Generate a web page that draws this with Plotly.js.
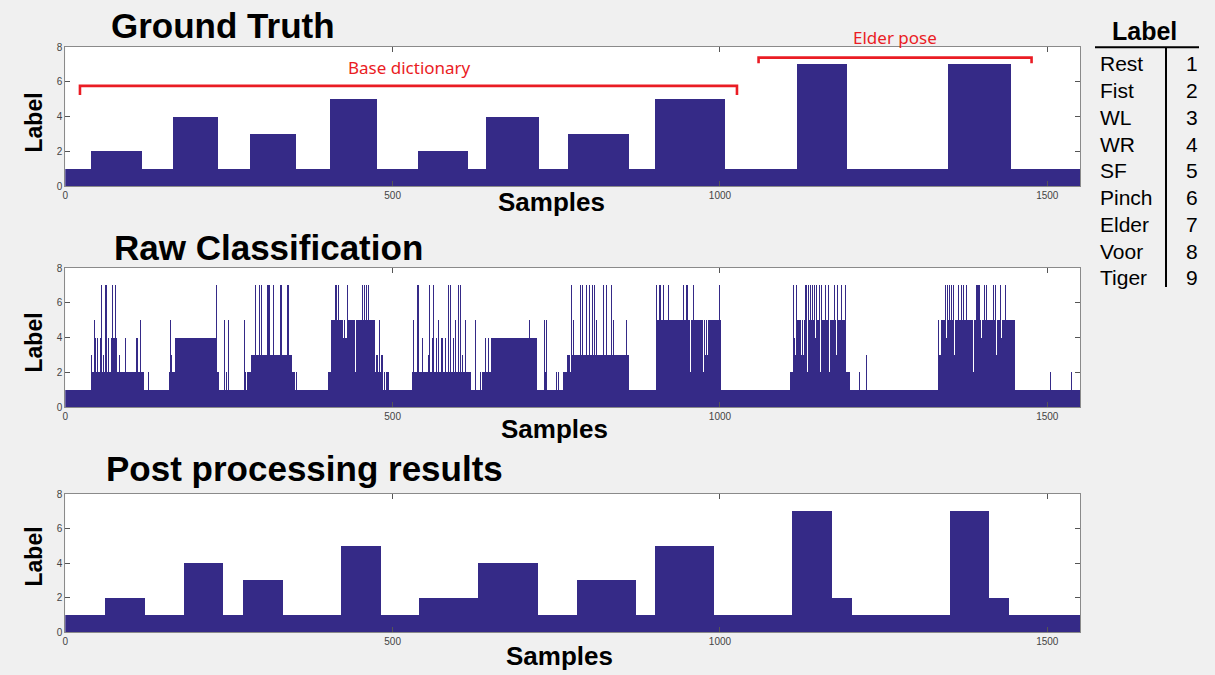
<!DOCTYPE html>
<html>
<head>
<meta charset="utf-8">
<script src="https://cdn.plot.ly/plotly-3.0.1.min.js"></script>
<style>
  html, body { margin: 0; padding: 0; background: #f0f0f0; }
  #chart { width: 1215px; height: 675px; }
</style>
</head>
<body>
<div id="chart"></div>
<script>
// ---- data -------------------------------------------------------------
const nSamples = 1550;

// Ground truth: label of each run and the sample index where the run ends
const gtLabel = [1, 2, 1, 4, 1, 3, 1, 5, 1, 2, 1, 4, 1, 3, 1, 5, 1, 7, 1, 7, 1];
const gtEnd   = [40, 117, 164, 233, 282, 352, 404, 476, 538, 615, 643, 724, 768, 861, 901, 1007, 1118, 1194, 1349, 1444, 1550];

// Post-processed output: runs
const ppLabel = [1, 2, 1, 4, 1, 3, 1, 5, 1, 2, 4, 1, 3, 1, 5, 1, 7, 2, 1, 7, 2, 1];
const ppEnd   = [61, 121, 181, 241, 271, 332, 421, 482, 541, 630, 722, 781, 872, 901, 991, 1110, 1171, 1202, 1351, 1411, 1441, 1550];

// Raw classifier output: dominant runs ...
const rawBaseLabel = [1, 2, 1, 2, 4, 2, 1, 2, 3, 2, 1, 2, 5, 2, 1, 2, 1, 2, 4, 1, 2, 3, 1, 5, 1, 2, 3, 5, 2, 1, 3, 5, 1];
const rawBaseEnd   = [40, 120, 158, 168, 230, 235, 277, 283, 346, 354, 402, 406, 472, 494, 530, 620, 638, 651, 721, 760, 766, 861, 902, 1002, 1107, 1112, 1118, 1193, 1199, 1334, 1338, 1450, 1550];

// ... and the single samples that flicker away from them
const rawSpikeAt = [
  40, 44, 46, 49, 51, 53, 55, 57, 58, 60, 61, 62, 63, 65, 66, 68, 70, 71, 72, 73, 74, 75, 76, 77, 78, 80, 82,
  91, 92, 94, 106, 108, 110, 112, 114, 127, 160, 162, 230, 239, 242, 243, 246, 249, 251, 254, 260, 271, 273, 275,
  288, 290, 296, 297, 299, 306, 308, 310, 311, 318, 320, 328, 330, 339, 340, 346, 349, 351,
  412, 414, 416, 417, 424, 425, 428, 429, 431, 443, 445, 453, 457, 459, 460, 463,
  472, 475, 476, 479, 483, 484, 486, 489, 491,
  531, 535, 537, 539, 543, 545, 552, 554, 556, 558, 560, 562, 564, 567, 570, 574, 576, 580, 585, 588, 590, 592, 593,
  596, 600, 603, 604, 606, 611, 619, 624, 626, 627, 634, 637, 639, 641, 645, 646, 700, 709, 720, 731, 733, 735, 750, 753,
  769, 771, 773, 776, 778, 784, 786, 790, 792, 796, 800, 805, 808, 811, 815, 818, 822, 826, 830, 834, 837, 847, 853, 857, 859,
  903, 907, 909, 913, 917, 921, 923, 928, 931, 940, 944, 948, 950, 955, 959, 969, 974, 977, 980, 992, 999, 1007, 1015,
  1112, 1113, 1114, 1116, 1120, 1122, 1124, 1127, 1130, 1132, 1133, 1135, 1138, 1141, 1144, 1145, 1147, 1152, 1153, 1155,
  1157, 1161, 1165, 1167, 1174, 1178, 1179, 1183, 1185, 1189, 1191, 1192, 1213, 1223,
  1333, 1342, 1344, 1346, 1347, 1350, 1353, 1356, 1358, 1360, 1364, 1366, 1368, 1372, 1374, 1376, 1380, 1387,
  1391, 1392, 1393, 1394, 1395, 1396, 1399, 1404, 1407, 1409, 1412, 1415, 1417, 1420, 1422, 1428, 1430, 1432, 1436, 1441,
  1504, 1537
];
const rawSpikeLabel = [
  3, 5, 4, 4, 4, 4, 7, 7, 3, 7, 7, 7, 7, 4, 3, 3, 4, 4, 7, 4, 4, 4, 7, 7, 4, 5, 3,
  4, 4, 5, 4, 4, 4, 4, 5, 2, 5, 3, 7, 2, 2, 5, 2, 5, 5, 5, 3, 2, 5, 2,
  7, 7, 7, 7, 7, 7, 7, 7, 7, 7, 7, 7, 7, 7, 7, 5, 7, 1,
  7, 7, 3, 7, 4, 4, 4, 4, 7, 2, 7, 7, 7, 3, 7, 7,
  5, 3, 3, 5, 3, 3, 1, 1, 5,
  5, 4, 7, 7, 7, 4, 4, 3, 7, 7, 4, 7, 5, 4, 5, 4, 4, 4, 7, 7, 7, 4, 4,
  5, 7, 7, 4, 3, 5, 3, 2, 5, 2, 2, 2, 4, 4, 7, 4, 1, 5, 7, 5, 2, 5, 2, 2,
  2, 2, 7, 5, 5, 7, 7, 7, 7, 7, 7, 7, 7, 5, 7, 7, 7, 7, 7, 7, 5, 5, 7, 5, 7,
  7, 7, 7, 7, 3, 7, 7, 4, 4, 7, 7, 7, 7, 2, 7, 7, 2, 3, 3, 4, 7, 2, 2,
  7, 4, 7, 7, 7, 7, 3, 3, 7, 7, 2, 7, 7, 7, 7, 4, 7, 7, 2, 7,
  7, 7, 7, 2, 7, 3, 7, 7, 7, 7, 7, 4, 2, 3,
  5, 7, 7, 4, 7, 7, 7, 7, 3, 7, 7, 4, 7, 7, 3, 7, 7, 2,
  7, 7, 7, 7, 7, 7, 4, 7, 7, 7, 2, 7, 7, 7, 3, 7, 4, 7, 7, 3,
  2, 2
];

// Gesture legend
const gestureNames = ['Rest', 'Fist', 'WL', 'WR', 'SF', 'Pinch', 'Elder', 'Voor', 'Tiger'];
const gestureIds   = [1, 2, 3, 4, 5, 6, 7, 8, 9];

const xTicks = [0, 500, 1000, 1500];
const yTicks = [0, 2, 4, 6, 8];

// ---- helpers ----------------------------------------------------------
// runs (label, end) -> bar geometry in sample units
function runsToBars(labels, ends) {
  const x = [], w = [], y = [];
  let start = 0;
  labels.forEach((lab, i) => {
    const end = ends[i];
    x.push((start + end) / 2);
    w.push(end - start);
    y.push(lab);
    start = end;
  });
  return { x, w, y };
}

// decode the raw stream sample by sample, then merge equal neighbours
function rawToRuns() {
  const seq = new Array(nSamples).fill(1);
  let start = 0;
  rawBaseLabel.forEach((lab, i) => {
    for (let k = start; k < rawBaseEnd[i]; k++) seq[k] = lab;
    start = rawBaseEnd[i];
  });
  rawSpikeAt.forEach((s, i) => { seq[s] = rawSpikeLabel[i]; });
  const labels = [], ends = [];
  for (let k = 0; k < nSamples; k++) {
    if (k === nSamples - 1 || seq[k + 1] !== seq[k]) {
      labels.push(seq[k]);
      ends.push(k + 1);
    }
  }
  return runsToBars(labels, ends);
}

const barColor = '#352a87';
function barTrace(b, ax) {
  return {
    type: 'bar', x: b.x, y: b.y, width: b.w,
    xaxis: 'x' + ax, yaxis: 'y' + ax,
    marker: { color: barColor, line: { width: 0 } },
    hoverinfo: 'skip', showlegend: false
  };
}

const traces = [
  barTrace(runsToBars(gtLabel, gtEnd), ''),
  barTrace(rawToRuns(), '2'),
  barTrace(runsToBars(ppLabel, ppEnd), '3')
];

// ---- layout -----------------------------------------------------------
const W = 1215, H = 675;
const px = v => v / W;
const py = v => 1 - v / H;

const font = 'Liberation Sans, Arial, Helvetica, sans-serif';
const axisCol = '#8a8a8a';

function xAxis(anchor) {
  return {
    anchor: anchor, domain: [px(65.3), px(1080)], range: [0, nSamples],
    tickmode: 'array', tickvals: xTicks, ticktext: xTicks.map(String),
    ticks: 'inside', ticklen: 5, tickcolor: '#555', tickwidth: 1,
    showline: true, linecolor: axisCol, linewidth: 1, mirror: 'ticks',
    showgrid: false, zeroline: false, fixedrange: true, automargin: false,
    tickfont: { family: font, size: 10, color: '#444' }
  };
}
function yAxis(anchor, topPx, botPx) {
  return {
    anchor: anchor, domain: [py(botPx), py(topPx)], range: [0, 8],
    tickmode: 'array', tickvals: yTicks, ticktext: yTicks.map(String),
    ticks: 'inside', ticklen: 5, tickcolor: '#555', tickwidth: 1,
    showline: true, linecolor: axisCol, linewidth: 1, mirror: 'ticks',
    showgrid: false, zeroline: false, fixedrange: true, automargin: false,
    tickfont: { family: font, size: 10, color: '#444' }
  };
}

const annotations = [];
function textAt(x, y, text, size, opts) {
  annotations.push(Object.assign({
    xref: 'paper', yref: 'paper', x: px(x), y: py(y), text: text,
    showarrow: false, xanchor: 'center', yanchor: 'middle', borderpad: 0,
    font: { family: font, size: size, color: '#000' }
  }, opts || {}));
}

// panel titles
textAt(110, 25.5, '<b>Ground Truth</b>', 35, { xanchor: 'left' });
textAt(113, 247, '<b>Raw Classification</b>', 35, { xanchor: 'left' });
textAt(105, 468, '<b>Post processing results</b>', 35, { xanchor: 'left' });

// axis titles
[[551, 202], [554, 428.6], [559, 656]].forEach(p => textAt(p[0], p[1], '<b>Samples</b>', 26));
[[33.5, 123], [33.5, 343], [33.5, 557]].forEach(p =>
  textAt(p[0], p[1], '<b>Label</b>', 23, { textangle: -90 }));

// gesture legend table
textAt(1144, 31, '<b>Label</b>', 25);
gestureNames.forEach((name, i) => {
  const yc = 63.8 + i * 26.75;
  textAt(1098.5, yc, name, 21, { xanchor: 'left' });
  textAt(1198.5, yc, String(gestureIds[i]), 21, { xanchor: 'right' });
});

// bracket captions
const red = '#ea1c24';
textAt(409, 67, 'Base dictionary', 17, { font: { family: 'Noto Sans, sans-serif', size: 17, color: red } });
textAt(895, 37, 'Elder pose', 17, { font: { family: 'Noto Sans, sans-serif', size: 17, color: red } });

const shapes = [
  // legend rules
  { type: 'line', xref: 'paper', yref: 'paper', x0: px(1095), x1: px(1199), y0: py(47.3), y1: py(47.3),
    line: { color: '#000', width: 2 } },
  { type: 'line', xref: 'paper', yref: 'paper', x0: px(1166), x1: px(1166), y0: py(47.3), y1: py(287),
    line: { color: '#000', width: 2 } },
  // red brackets over the ground-truth panel
  { type: 'path', xref: 'x', yref: 'y', path: 'M 22.4,5.24 L 22.4,5.76 L 1026,5.76 L 1026,5.24',
    line: { color: red, width: 2.6 } },
  { type: 'path', xref: 'x', yref: 'y', path: 'M 1059,7.06 L 1059,7.39 L 1476,7.39 L 1476,7.06',
    line: { color: red, width: 2.6 } }
];

const layout = {
  width: W, height: H,
  margin: { l: 0, r: 0, t: 0, b: 0 },
  paper_bgcolor: '#f0f0f0', plot_bgcolor: '#ffffff',
  bargap: 0, showlegend: false,
  font: { family: font },
  xaxis: xAxis('y'), yaxis: yAxis('x', 47, 186),
  xaxis2: xAxis('y2'), yaxis2: yAxis('x2', 268, 407),
  xaxis3: xAxis('y3'), yaxis3: yAxis('x3', 494, 632),
  annotations: annotations,
  shapes: shapes
};

Plotly.newPlot('chart', traces, layout, { displayModeBar: false, staticPlot: true });
</script>
</body>
</html>
